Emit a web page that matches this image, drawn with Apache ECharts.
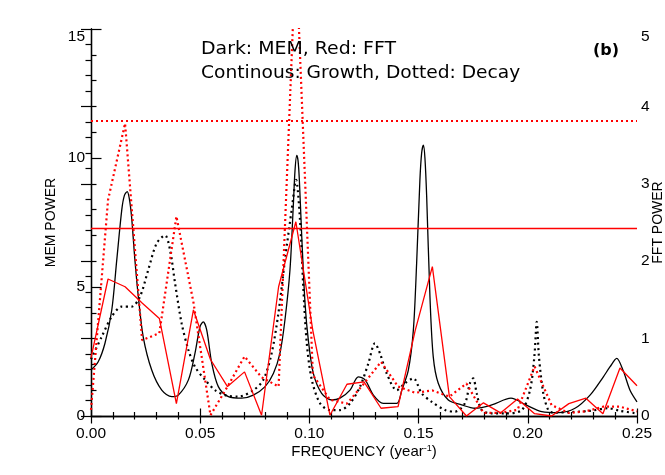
<!DOCTYPE html>
<html>
<head>
<meta charset="utf-8">
<script src="https://cdn.jsdelivr.net/npm/echarts@6/dist/echarts.min.js"></script>
<style>html,body{margin:0;padding:0;background:#fff}#c{width:665px;height:475px}</style>
</head>
<body>
<div id="c"></div>
<script>
// ---- data ----
// MEM growth spectrum (black solid), left axis
var memGrowthFreq = [0.0000,0.0033,0.0064,0.0095,0.0118,0.0141,0.0153,0.0166,0.0176,0.0186,0.0201,0.0217,0.0239,0.0278,0.0324,0.0370,0.0400,0.0446,0.0476,0.0499,0.0514,0.0530,0.0553,0.0583,0.0629,0.0690,0.0743,0.0797,0.0835,0.0865,0.0888,0.0911,0.0926,0.0934,0.0942,0.0948,0.0954,0.0965,0.0980,0.0995,0.1018,0.1056,0.1102,0.1140,0.1186,0.1224,0.1255,0.1293,0.1338,0.1400,0.1423,0.1453,0.1476,0.1491,0.1506,0.1514,0.1522,0.1529,0.1537,0.1552,0.1567,0.1590,0.1636,0.1697,0.1758,0.1835,0.1923,0.1987,0.2064,0.2140,0.2216,0.2285,0.2346,0.2376,0.2407,0.2437,0.2468,0.2500];
var memGrowth     = [1.78,2.10,2.82,4.10,6.05,8.00,8.55,8.70,8.40,7.70,6.05,4.60,3.07,1.78,1.00,0.75,0.81,1.40,2.43,3.46,3.65,3.33,2.04,1.14,0.75,0.69,0.81,1.14,1.65,2.43,3.72,5.66,8.10,9.50,10.10,9.90,9.15,6.95,4.37,2.95,1.65,0.88,0.62,0.69,1.00,1.52,1.40,0.81,0.49,0.49,1.00,1.78,3.33,5.92,9.15,10.20,10.50,10.00,8.50,4.62,2.30,1.27,0.62,0.43,0.30,0.43,0.69,0.45,0.17,0.13,0.30,0.81,1.52,1.90,2.23,1.75,1.00,0.55];
// MEM decay spectrum (black dotted), left axis
var memDecayFreq = [0.0000,0.0049,0.0095,0.0141,0.0186,0.0224,0.0262,0.0301,0.0339,0.0362,0.0385,0.0415,0.0446,0.0476,0.0522,0.0568,0.0614,0.0674,0.0743,0.0789,0.0827,0.0858,0.0888,0.0919,0.0939,0.0957,0.0972,0.0988,0.1011,0.1049,0.1094,0.1140,0.1186,0.1232,0.1270,0.1300,0.1323,0.1354,0.1400,0.1438,0.1476,0.1514,0.1560,0.1621,0.1667,0.1712,0.1735,0.1750,0.1766,0.1789,0.1835,0.1896,0.1972,0.2010,0.2030,0.2041,0.2051,0.2071,0.2094,0.2117,0.2193,0.2285,0.2367,0.2422,0.2500];
var memDecay     = [2.20,3.07,3.85,4.24,4.24,4.62,5.66,6.70,7.00,6.43,5.14,3.59,2.56,1.91,1.40,1.00,0.81,0.75,1.00,1.40,2.43,3.98,6.05,8.00,9.15,7.60,5.00,2.82,1.40,0.49,0.23,0.23,0.49,1.14,2.04,2.82,2.43,1.65,1.00,1.27,1.46,0.88,0.55,0.23,0.17,0.49,1.27,1.46,0.88,0.23,0.10,0.10,0.23,1.00,2.30,3.65,2.30,0.88,0.23,0.13,0.15,0.20,0.30,0.20,0.10];
// FFT frequencies (bins) and powers, right axis
var fftFreq   = [0,0.0078,0.0156,0.0234,0.0313,0.0391,0.0469,0.0547,0.0625,0.0703,0.0781,0.0859,0.0938,0.1016,0.1094,0.1172,0.1250,0.1328,0.1406,0.1484,0.1563,0.1641,0.1719,0.1797,0.1875,0.1953,0.2031,0.2109,0.2188,0.2266,0.2344,0.2422,0.2500];
var fftGrowth = [0.75,1.77,1.67,1.46,1.26,0.16,1.37,0.73,0.38,0.57,0.01,1.67,2.51,1.10,0.01,0.41,0.44,0.10,0.12,1.10,1.93,0.25,0.00,0.17,0.04,0.22,0.03,0.00,0.16,0.23,0.03,0.62,0.39];
var fftDecay  = [0.08,2.79,3.78,0.98,1.07,2.58,1.47,0.01,0.38,0.77,0.50,0.38,6.00,0.53,0.21,0.16,0.42,0.70,0.38,0.30,0.33,0.25,0.42,0.04,0.04,0.08,0.64,0.14,0.04,0.06,0.12,0.12,0.06];
// significance levels (FFT power)
var fftLevelGrowth = 2.43;
var fftLevelDecay  = 3.81;
// texts
var xTickLabels = ['0.00','0.05','0.10','0.15','0.20','0.25'];
var annot1 = 'Dark: MEM, Red: FFT';
var annot2 = 'Continous: Growth, Dotted: Decay';
var panelLabel = '(b)';

function zip(xs, ys){ var o=[]; for(var i=0;i<xs.length;i++) o.push([xs[i], ys[i]]); return o; }

var FONT = 'Liberation Sans, Arial, sans-serif';
var AXLINE = {show:true, lineStyle:{color:'#000', width:1.3}};
function tick(len){ return {show:true, inside:true, length:len, lineStyle:{color:'#000', width:1.2}}; }
function minor(len){ return {show:true, splitNumber:5, length:len, lineStyle:{color:'#000', width:1.2}}; }

var chart = echarts.init(document.getElementById('c'), null, {renderer:'canvas'});
chart.setOption({
  animation:false,
  backgroundColor:'#fff',
  grid:{left:91, right:28, top:29, bottom:59, containLabel:false, outerBoundsMode:'none'},
  xAxis:[{
    type:'value', min:0, max:0.25, interval:0.05, position:'bottom',
    axisLine:AXLINE, splitLine:{show:false},
    axisTick:tick(7.5), minorTick:minor(4),
    axisLabel:{show:true, margin:10, color:'#000', fontFamily:FONT, fontSize:15.5,
      formatter:function(v){ return xTickLabels[Math.round(v/0.05)]; }},
    name:'FREQUENCY (year{sup|-1})', nameLocation:'middle', nameGap:28, nameMoveOverlap:false,
    nameTextStyle:{color:'#000', fontFamily:FONT, fontSize:15,
      rich:{sup:{fontSize:9, fontFamily:FONT, color:'#000', verticalAlign:'top', padding:[0,0,6,0]}}}
  },{
    type:'value', min:0, max:0.25, interval:0.05, position:'top',
    axisLine:AXLINE, splitLine:{show:false},
    axisTick:tick(7.5), minorTick:minor(3.5),
    axisLabel:{show:false}
  }],
  yAxis:[{
    type:'value', min:0, max:15, interval:5, position:'left',
    axisLine:AXLINE, splitLine:{show:false},
    axisTick:tick(10.5), minorTick:minor(5.5),
    axisLabel:{show:true, margin:6, color:'#000', fontFamily:FONT, fontSize:15.5,
      verticalAlignMaxLabel:'top'},
    name:'MEM POWER', nameLocation:'middle', nameGap:33, nameRotate:90, nameMoveOverlap:false,
    nameTextStyle:{color:'#000', fontFamily:FONT, fontSize:14}
  },{
    type:'value', min:0, max:5, interval:1, position:'right',
    axisLine:AXLINE, splitLine:{show:false},
    axisTick:tick(10), minorTick:minor(5.5),
    axisLabel:{show:true, margin:4, color:'#000', fontFamily:FONT, fontSize:15.5,
      verticalAlignMaxLabel:'top'},
    name:'FFT POWER', nameLocation:'middle', nameGap:14, nameRotate:90, nameMoveOverlap:false,
    nameTextStyle:{color:'#000', fontFamily:FONT, fontSize:14}
  }],
  series:[{
    name:'MEM Growth', type:'line', xAxisIndex:0, yAxisIndex:0, showSymbol:false, symbol:'none',
    smooth:0.3, data:zip(memGrowthFreq, memGrowth),
    lineStyle:{color:'#000', width:1.3}, z:3
  },{
    name:'MEM Decay', type:'line', xAxisIndex:0, yAxisIndex:0, showSymbol:false, symbol:'none',
    smooth:0.3, data:zip(memDecayFreq, memDecay),
    lineStyle:{color:'#000', width:2.2, type:[2,3.5]}, z:3
  },{
    name:'FFT Growth', type:'line', xAxisIndex:0, yAxisIndex:1, showSymbol:false, symbol:'none',
    data:zip(fftFreq, fftGrowth),
    lineStyle:{color:'#ff0000', width:1.3}, z:4,
    markLine:{silent:true, symbol:'none', label:{show:false},
      lineStyle:{color:'#ff0000', width:1.3, type:'solid'},
      data:[{yAxis:fftLevelGrowth}]}
  },{
    name:'FFT Decay', type:'line', xAxisIndex:0, yAxisIndex:1, showSymbol:false, symbol:'none',
    data:zip(fftFreq, fftDecay),
    lineStyle:{color:'#ff0000', width:2.2, type:[2,3]}, z:4,
    markLine:{silent:true, symbol:'none', label:{show:false},
      lineStyle:{color:'#ff0000', width:2.2, type:[2,3]},
      data:[{yAxis:fftLevelDecay}]}
  }],
  graphic:[{
    type:'text', x:201, y:49, scaleX:1.05, silent:true, z:10,
    style:{text:annot1, x:0, y:0, fill:'#000', font:'18px "DejaVu Sans"', textVerticalAlign:'middle', verticalAlign:'middle'}
  },{
    type:'text', x:201, y:73.5, scaleX:1.035, silent:true, z:10,
    style:{text:annot2, x:0, y:0, fill:'#000', font:'18px "DejaVu Sans"', textVerticalAlign:'middle', verticalAlign:'middle'}
  },{
    type:'text', x:593, y:51, silent:true, z:10,
    style:{text:panelLabel, x:0, y:0, fill:'#000', font:'bold 16px "DejaVu Sans"', textVerticalAlign:'middle', verticalAlign:'middle'}
  }]
});
</script>
</body>
</html>
